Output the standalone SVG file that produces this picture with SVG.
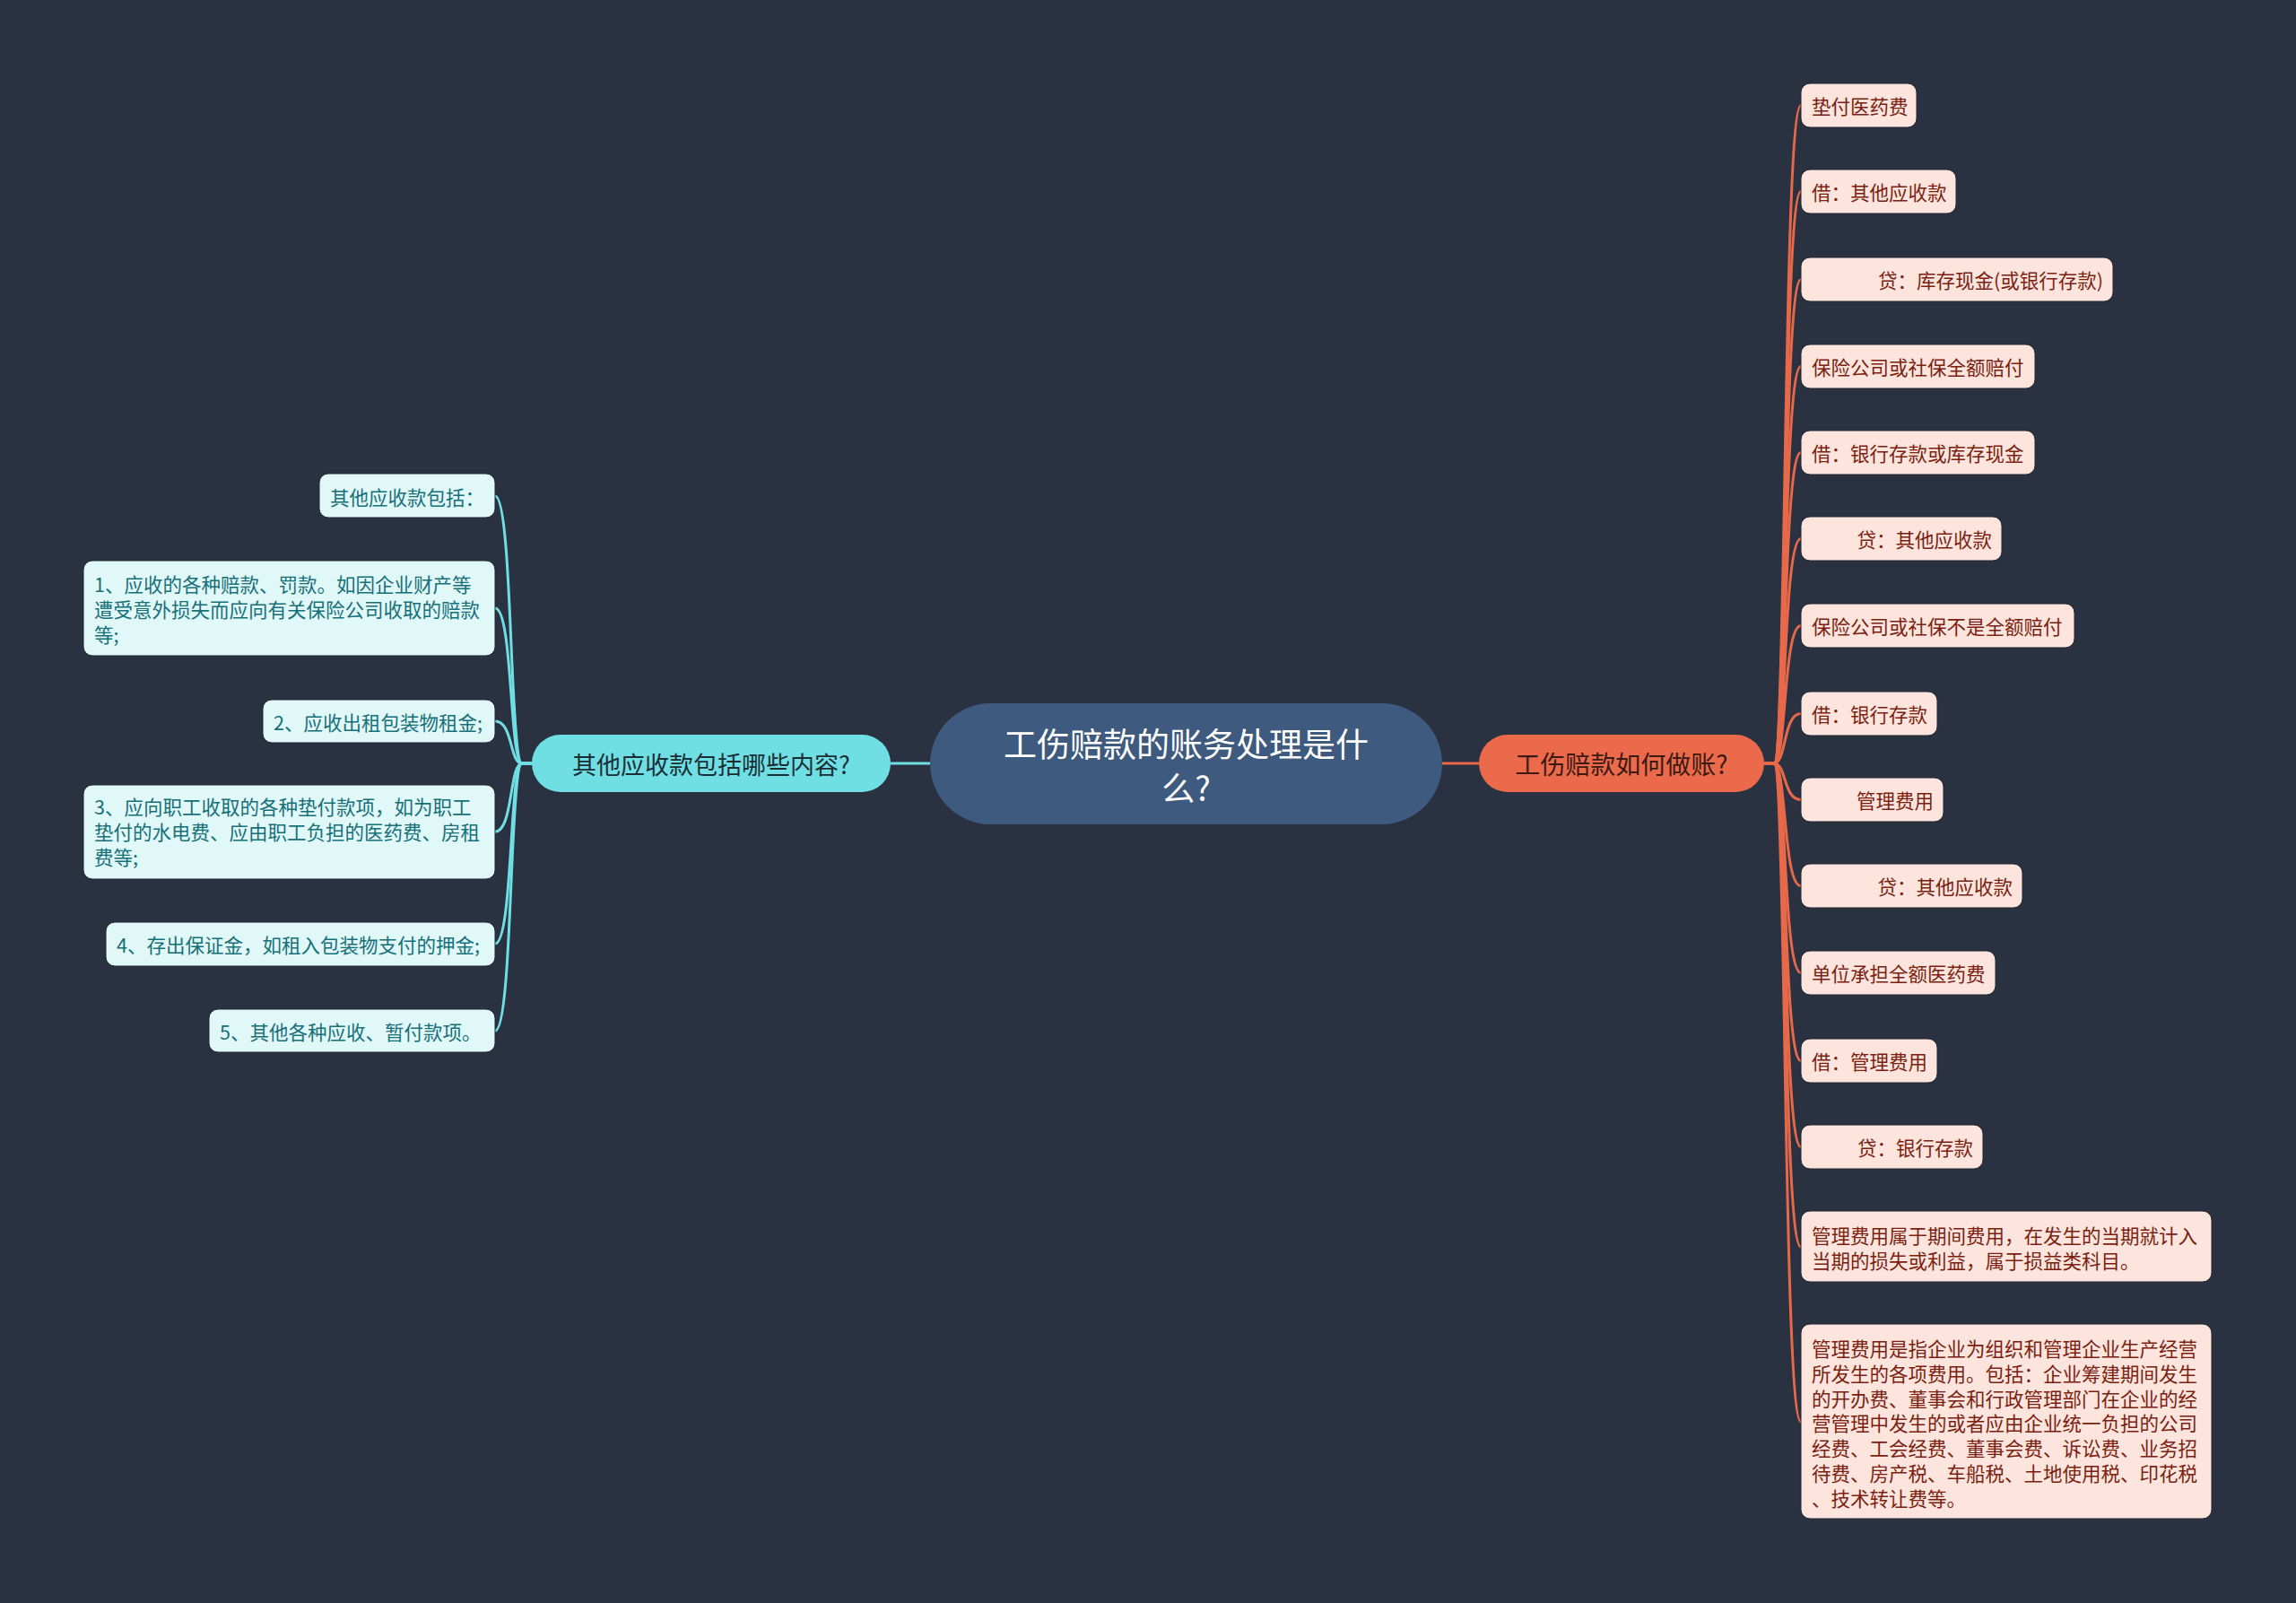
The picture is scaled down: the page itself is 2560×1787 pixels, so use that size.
<svg xmlns="http://www.w3.org/2000/svg" width="2560" height="1787" viewBox="0 0 2560 1787">
<style>
text{font-family:"Noto Sans CJK SC","Noto Sans",sans-serif;dominant-baseline:central}
.root rect{fill:#3e5a7e}
.root text{fill:#ffffff;font-size:37px;text-anchor:middle}
.bo rect{fill:#ec6a4c}
.bo text{fill:#3b1a12;font-size:28px;text-anchor:middle}
.bc rect{fill:#6fdfe4}
.bc text{fill:#1a2e35;font-size:27px;text-anchor:middle}
.ro rect{fill:#fde4dc;stroke:#1f2632;stroke-width:1}
.ro text{fill:#7a1f12;font-size:21.5px}
.lc rect{fill:#e1f8f9;stroke:#1f2632;stroke-width:1}
.lc text{fill:#167078;font-size:21.5px}
.e{text-anchor:end}
.co path{fill:none;stroke-width:3}
.co .o{stroke:#e8694a}
.co .c{stroke:#6fdfe4}
</style>
<rect width="2560" height="1787" fill="#2a3140"/>
<g class="co">
<path class="c" d="M993 851H1037"/>
<path class="o" d="M1608 851H1649"/>
<path class="o" d="M1967 851L1978 851C1992 851 1988 117.5 2008 117.5"/>
<path class="o" d="M1967 851L1978 851C1992 851 1988 213.5 2008 213.5"/>
<path class="o" d="M1967 851L1978 851C1992 851 1988 311.5 2008 311.5"/>
<path class="o" d="M1967 851L1978 851C1992 851 1988 408.5 2008 408.5"/>
<path class="o" d="M1967 851L1978 851C1992 851 1988 504.5 2008 504.5"/>
<path class="o" d="M1967 851L1978 851C1992 851 1988 600.5 2008 600.5"/>
<path class="o" d="M1967 851L1978 851C1992 851 1988 697.5 2008 697.5"/>
<path class="o" d="M1967 851L1978 851C1992 851 1988 795.5 2008 795.5"/>
<path class="o" d="M1967 851L1978 851C1992 851 1988 891.5 2008 891.5"/>
<path class="o" d="M1967 851L1978 851C1992 851 1988 987.5 2008 987.5"/>
<path class="o" d="M1967 851L1978 851C1992 851 1988 1084.5 2008 1084.5"/>
<path class="o" d="M1967 851L1978 851C1992 851 1988 1182.5 2008 1182.5"/>
<path class="o" d="M1967 851L1978 851C1992 851 1988 1278.5 2008 1278.5"/>
<path class="o" d="M1967 851L1978 851C1992 851 1988 1390 2008 1390"/>
<path class="o" d="M1967 851L1978 851C1992 851 1988 1585 2008 1585"/>
<path class="c" d="M593 851L582 851C568 851 572 553 552 553"/>
<path class="c" d="M593 851L582 851C568 851 572 678 552 678"/>
<path class="c" d="M593 851L582 851C568 851 572 804 552 804"/>
<path class="c" d="M593 851L582 851C568 851 572 927 552 927"/>
<path class="c" d="M593 851L582 851C568 851 572 1052 552 1052"/>
<path class="c" d="M593 851L582 851C568 851 572 1149 552 1149"/>
</g>
<g id="root" class="root">
<rect x="1037" y="784" width="571" height="135" rx="67.5"/>
<text x="1322.5" y="828">工伤赔款的账务处理是什</text>
<text x="1322.5" y="877">么?</text>
</g>
<g id="b-right" class="bo">
<rect x="1649" y="819" width="318" height="64" rx="32"/>
<text x="1808" y="851">工伤赔款如何做账?</text>
</g>
<g id="b-left" class="bc">
<rect x="593" y="819" width="400" height="64" rx="32"/>
<text x="793" y="851">其他应收款包括哪些内容?</text>
</g>
<g id="r1" class="ro"><rect x="2008" y="93" width="129" height="49" rx="10"/><text x="2020" y="117.5">垫付医药费</text></g>
<g id="r2" class="ro"><rect x="2008" y="189" width="173" height="49" rx="10"/><text x="2020" y="213.5">借：其他应收款</text></g>
<g id="r3" class="ro"><rect x="2008" y="287" width="348" height="49" rx="10"/><text class="e" x="2345" y="311.5">贷：库存现金(或银行存款)</text></g>
<g id="r4" class="ro"><rect x="2008" y="384" width="261" height="49" rx="10"/><text x="2020" y="408.5">保险公司或社保全额赔付</text></g>
<g id="r5" class="ro"><rect x="2008" y="480" width="261" height="49" rx="10"/><text x="2020" y="504.5">借：银行存款或库存现金</text></g>
<g id="r6" class="ro"><rect x="2008" y="576" width="224" height="49" rx="10"/><text class="e" x="2221" y="600.5">贷：其他应收款</text></g>
<g id="r7" class="ro"><rect x="2008" y="673" width="305" height="49" rx="10"/><text x="2020" y="697.5">保险公司或社保不是全额赔付</text></g>
<g id="r8" class="ro"><rect x="2008" y="771" width="152" height="49" rx="10"/><text x="2020" y="795.5">借：银行存款</text></g>
<g id="r9" class="ro"><rect x="2008" y="867" width="159" height="49" rx="10"/><text class="e" x="2156" y="891.5">管理费用</text></g>
<g id="r10" class="ro"><rect x="2008" y="963" width="247" height="49" rx="10"/><text class="e" x="2244" y="987.5">贷：其他应收款</text></g>
<g id="r11" class="ro"><rect x="2008" y="1060" width="217" height="49" rx="10"/><text x="2020" y="1084.5">单位承担全额医药费</text></g>
<g id="r12" class="ro"><rect x="2008" y="1158" width="152" height="49" rx="10"/><text x="2020" y="1182.5">借：管理费用</text></g>
<g id="r13" class="ro"><rect x="2008" y="1254" width="203" height="49" rx="10"/><text class="e" x="2200" y="1278.5">贷：银行存款</text></g>
<g id="r14" class="ro"><rect x="2008" y="1350" width="458" height="79" rx="10"/>
<text x="2020" y="1376">管理费用属于期间费用，在发生的当期就计入</text>
<text x="2020" y="1404">当期的损失或利益，属于损益类科目。</text></g>
<g id="r15" class="ro"><rect x="2008" y="1476" width="458" height="217" rx="10"/>
<text x="2020" y="1502">管理费用是指企业为组织和管理企业生产经营</text>
<text x="2020" y="1530">所发生的各项费用。包括：企业筹建期间发生</text>
<text x="2020" y="1558">的开办费、董事会和行政管理部门在企业的经</text>
<text x="2020" y="1585">营管理中发生的或者应由企业统一负担的公司</text>
<text x="2020" y="1613">经费、工会经费、董事会费、诉讼费、业务招</text>
<text x="2020" y="1641">待费、房产税、车船税、土地使用税、印花税</text>
<text x="2020" y="1669">、技术转让费等。</text></g>
<g id="l1" class="lc"><rect x="356" y="528" width="196" height="49" rx="10"/><text x="368" y="553">其他应收款包括：</text></g>
<g id="l2" class="lc"><rect x="93" y="625" width="459" height="106" rx="10"/>
<text x="105" y="650">1、应收的各种赔款、罚款。如因企业财产等</text>
<text x="105" y="678">遭受意外损失而应向有关保险公司收取的赔款</text>
<text x="105" y="706">等;</text></g>
<g id="l3" class="lc"><rect x="293" y="780" width="259" height="48" rx="10"/><text x="305" y="804">2、应收出租包装物租金;</text></g>
<g id="l4" class="lc"><rect x="93" y="875" width="459" height="105" rx="10"/>
<text x="105" y="898">3、应向职工收取的各种垫付款项，如为职工</text>
<text x="105" y="926">垫付的水电费、应由职工负担的医药费、房租</text>
<text x="105" y="954">费等;</text></g>
<g id="l5" class="lc"><rect x="118" y="1028" width="434" height="49" rx="10"/><text x="130" y="1052">4、存出保证金，如租入包装物支付的押金;</text></g>
<g id="l6" class="lc"><rect x="233" y="1125" width="319" height="48" rx="10"/><text x="245" y="1149">5、其他各种应收、暂付款项。</text></g>
</svg>
